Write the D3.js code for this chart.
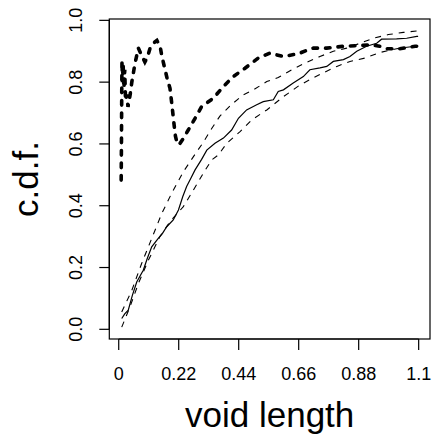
<!DOCTYPE html>
<html>
<head>
<meta charset="utf-8">
<script src="https://cdn.jsdelivr.net/npm/d3@7"></script>
<style>
  body { margin: 0; background: #fff; }
  text { font-family: "Liberation Sans", Arial, Helvetica, sans-serif; fill: #000; }
</style>
</head>
<body>
<div id="chart"></div>
<script>
// observed curve (thick dashed)
const obsX = [0.009, 0.010, 0.011, 0.012, 0.014, 0.016, 0.019, 0.022, 0.025, 0.030, 0.034, 0.042, 0.048, 0.060, 0.072, 0.085, 0.096, 0.105, 0.115, 0.130, 0.140, 0.152, 0.158, 0.170, 0.178, 0.188, 0.196, 0.202, 0.208, 0.215, 0.222, 0.235, 0.255, 0.280, 0.304, 0.347, 0.384, 0.420, 0.463, 0.512, 0.555, 0.603, 0.659, 0.695, 0.714, 0.763, 0.824, 0.873, 0.921, 0.958, 0.983, 1.031, 1.087, 1.098];
const obsY = [0.483, 0.600, 0.760, 0.870, 0.800, 0.860, 0.780, 0.840, 0.740, 0.760, 0.720, 0.760, 0.800, 0.862, 0.910, 0.885, 0.865, 0.880, 0.910, 0.928, 0.935, 0.915, 0.885, 0.840, 0.810, 0.780, 0.720, 0.670, 0.625, 0.600, 0.598, 0.615, 0.645, 0.683, 0.721, 0.748, 0.786, 0.818, 0.845, 0.878, 0.894, 0.883, 0.892, 0.905, 0.910, 0.910, 0.916, 0.918, 0.921, 0.916, 0.908, 0.908, 0.916, 0.916];

// empirical c.d.f. (solid)
const cdfX = [0.011, 0.022, 0.035, 0.050, 0.066, 0.090, 0.105, 0.121, 0.145, 0.160, 0.176, 0.200, 0.219, 0.235, 0.249, 0.265, 0.280, 0.304, 0.323, 0.353, 0.384, 0.414, 0.439, 0.469, 0.506, 0.530, 0.567, 0.585, 0.604, 0.640, 0.677, 0.701, 0.738, 0.763, 0.787, 0.824, 0.848, 0.873, 0.909, 0.946, 0.964, 1.019, 1.056, 1.093, 1.098];
const cdfY = [0.035, 0.050, 0.062, 0.110, 0.153, 0.191, 0.230, 0.267, 0.294, 0.310, 0.332, 0.354, 0.386, 0.430, 0.462, 0.490, 0.516, 0.550, 0.580, 0.602, 0.619, 0.645, 0.683, 0.710, 0.727, 0.737, 0.743, 0.770, 0.775, 0.797, 0.818, 0.840, 0.846, 0.851, 0.867, 0.873, 0.883, 0.900, 0.916, 0.926, 0.939, 0.940, 0.942, 0.948, 0.948];

// envelopes (thin dashed)
const upX = [0.011, 0.048, 0.084, 0.121, 0.158, 0.194, 0.237, 0.274, 0.310, 0.341, 0.371, 0.414, 0.457, 0.494, 0.543, 0.585, 0.634, 0.683, 0.738, 0.787, 0.836, 0.885, 0.934, 0.989, 1.044, 1.098];
const upY = [0.056, 0.126, 0.213, 0.294, 0.375, 0.440, 0.510, 0.559, 0.605, 0.650, 0.690, 0.728, 0.759, 0.775, 0.802, 0.815, 0.840, 0.862, 0.883, 0.900, 0.910, 0.926, 0.942, 0.954, 0.961, 0.966];
const loX = [0.011, 0.041, 0.072, 0.109, 0.151, 0.188, 0.237, 0.274, 0.310, 0.341, 0.365, 0.396, 0.445, 0.488, 0.543, 0.604, 0.665, 0.701, 0.750, 0.800, 0.848, 0.903, 0.958, 1.019, 1.098];
const loY = [0.007, 0.072, 0.148, 0.224, 0.300, 0.348, 0.397, 0.451, 0.505, 0.548, 0.564, 0.602, 0.640, 0.678, 0.710, 0.753, 0.791, 0.808, 0.830, 0.851, 0.867, 0.878, 0.896, 0.908, 0.918];

// ticks
const xTicks = [0, 0.22, 0.44, 0.66, 0.88, 1.1];
const xTickLabels = ["0", "0.22", "0.44", "0.66", "0.88", "1.1"];
const yTicks = [0, 0.2, 0.4, 0.6, 0.8, 1.0];
const yTickLabels = ["0.0", "0.2", "0.4", "0.6", "0.8", "1.0"];

const width = 434;
const height = 440;
const plotL = 109.3, plotR = 430, plotT = 19, plotB = 339;

// domaines à la R : étendue des données + 4 %
const allX = obsX.concat(cdfX, upX, loX);
const allY = obsY.concat(cdfY, upY, loY);
const pad = (e) => { const d = (e[1] - e[0]) * 0.04; return [e[0] - d, e[1] + d]; };

const x = d3.scaleLinear().domain(pad(d3.extent(allX))).range([plotL, plotR]);
const y = d3.scaleLinear().domain(pad(d3.extent(allY))).range([plotB, plotT]);

const svg = d3.select("#chart")
  .append("svg")
  .attr("width", width)
  .attr("height", height);

const toPts = (xs, ys) => xs.map((v, i) => [v, ys[i]]);
const line = d3.line().x(d => x(d[0])).y(d => y(d[1]));

// courbes
svg.append("path")
  .attr("d", line(toPts(upX, upY)))
  .attr("fill", "none").attr("stroke", "#000").attr("stroke-width", 1.1)
  .attr("stroke-dasharray", "6,6");

svg.append("path")
  .attr("d", line(toPts(loX, loY)))
  .attr("fill", "none").attr("stroke", "#000").attr("stroke-width", 1.1)
  .attr("stroke-dasharray", "6,6");

svg.append("path")
  .attr("d", line(toPts(cdfX, cdfY)))
  .attr("fill", "none").attr("stroke", "#000").attr("stroke-width", 1.2);

svg.append("path")
  .attr("d", line(toPts(obsX, obsY)))
  .attr("fill", "none").attr("stroke", "#000").attr("stroke-width", 3.6)
  .attr("stroke-linecap", "round")
  .attr("stroke-dasharray", "4.5,8");

// cadre
svg.append("rect")
  .attr("x", plotL).attr("y", plotT)
  .attr("width", plotR - plotL).attr("height", plotB - plotT)
  .attr("fill", "none").attr("stroke", "#000").attr("stroke-width", 1.2);

// axe x
const xAxis = svg.append("g").attr("transform", `translate(0,${plotB})`);
xAxis.append("line")
  .attr("x1", x(xTicks[0])).attr("x2", x(xTicks[xTicks.length - 1]))
  .attr("stroke", "#000").attr("stroke-width", 1.2);
xAxis.selectAll(".xt")
  .data(xTicks)
  .join("line")
  .attr("x1", d => x(d)).attr("x2", d => x(d))
  .attr("y1", 0).attr("y2", 11)
  .attr("stroke", "#000").attr("stroke-width", 1.2);
xAxis.selectAll("text")
  .data(xTicks)
  .join("text")
  .attr("x", d => x(d)).attr("y", 41)
  .attr("text-anchor", "middle")
  .attr("font-size", 18)
  .text((d, i) => xTickLabels[i]);

// axe y
const yAxis = svg.append("g").attr("transform", `translate(${plotL},0)`);
yAxis.append("line")
  .attr("y1", y(yTicks[0])).attr("y2", y(yTicks[yTicks.length - 1]))
  .attr("stroke", "#000").attr("stroke-width", 1.2);
yAxis.selectAll(".yt")
  .data(yTicks)
  .join("line")
  .attr("y1", d => y(d)).attr("y2", d => y(d))
  .attr("x1", 0).attr("x2", -10)
  .attr("stroke", "#000").attr("stroke-width", 1.2);
yAxis.selectAll("text")
  .data(yTicks)
  .join("text")
  .attr("transform", d => `translate(-27.6,${y(d)}) rotate(-90)`)
  .attr("text-anchor", "middle")
  .attr("font-size", 18)
  .text((d, i) => yTickLabels[i]);

// titres
svg.append("text")
  .attr("x", (plotL + plotR) / 2).attr("y", 427)
  .attr("text-anchor", "middle")
  .attr("font-size", 35)
  .text("void length");

svg.append("text")
  .attr("transform", `translate(38.3,${(plotT + plotB) / 2}) rotate(-90)`)
  .attr("text-anchor", "middle")
  .attr("font-size", 35)
  .text("c.d.f.");
</script>
</body>
</html>
